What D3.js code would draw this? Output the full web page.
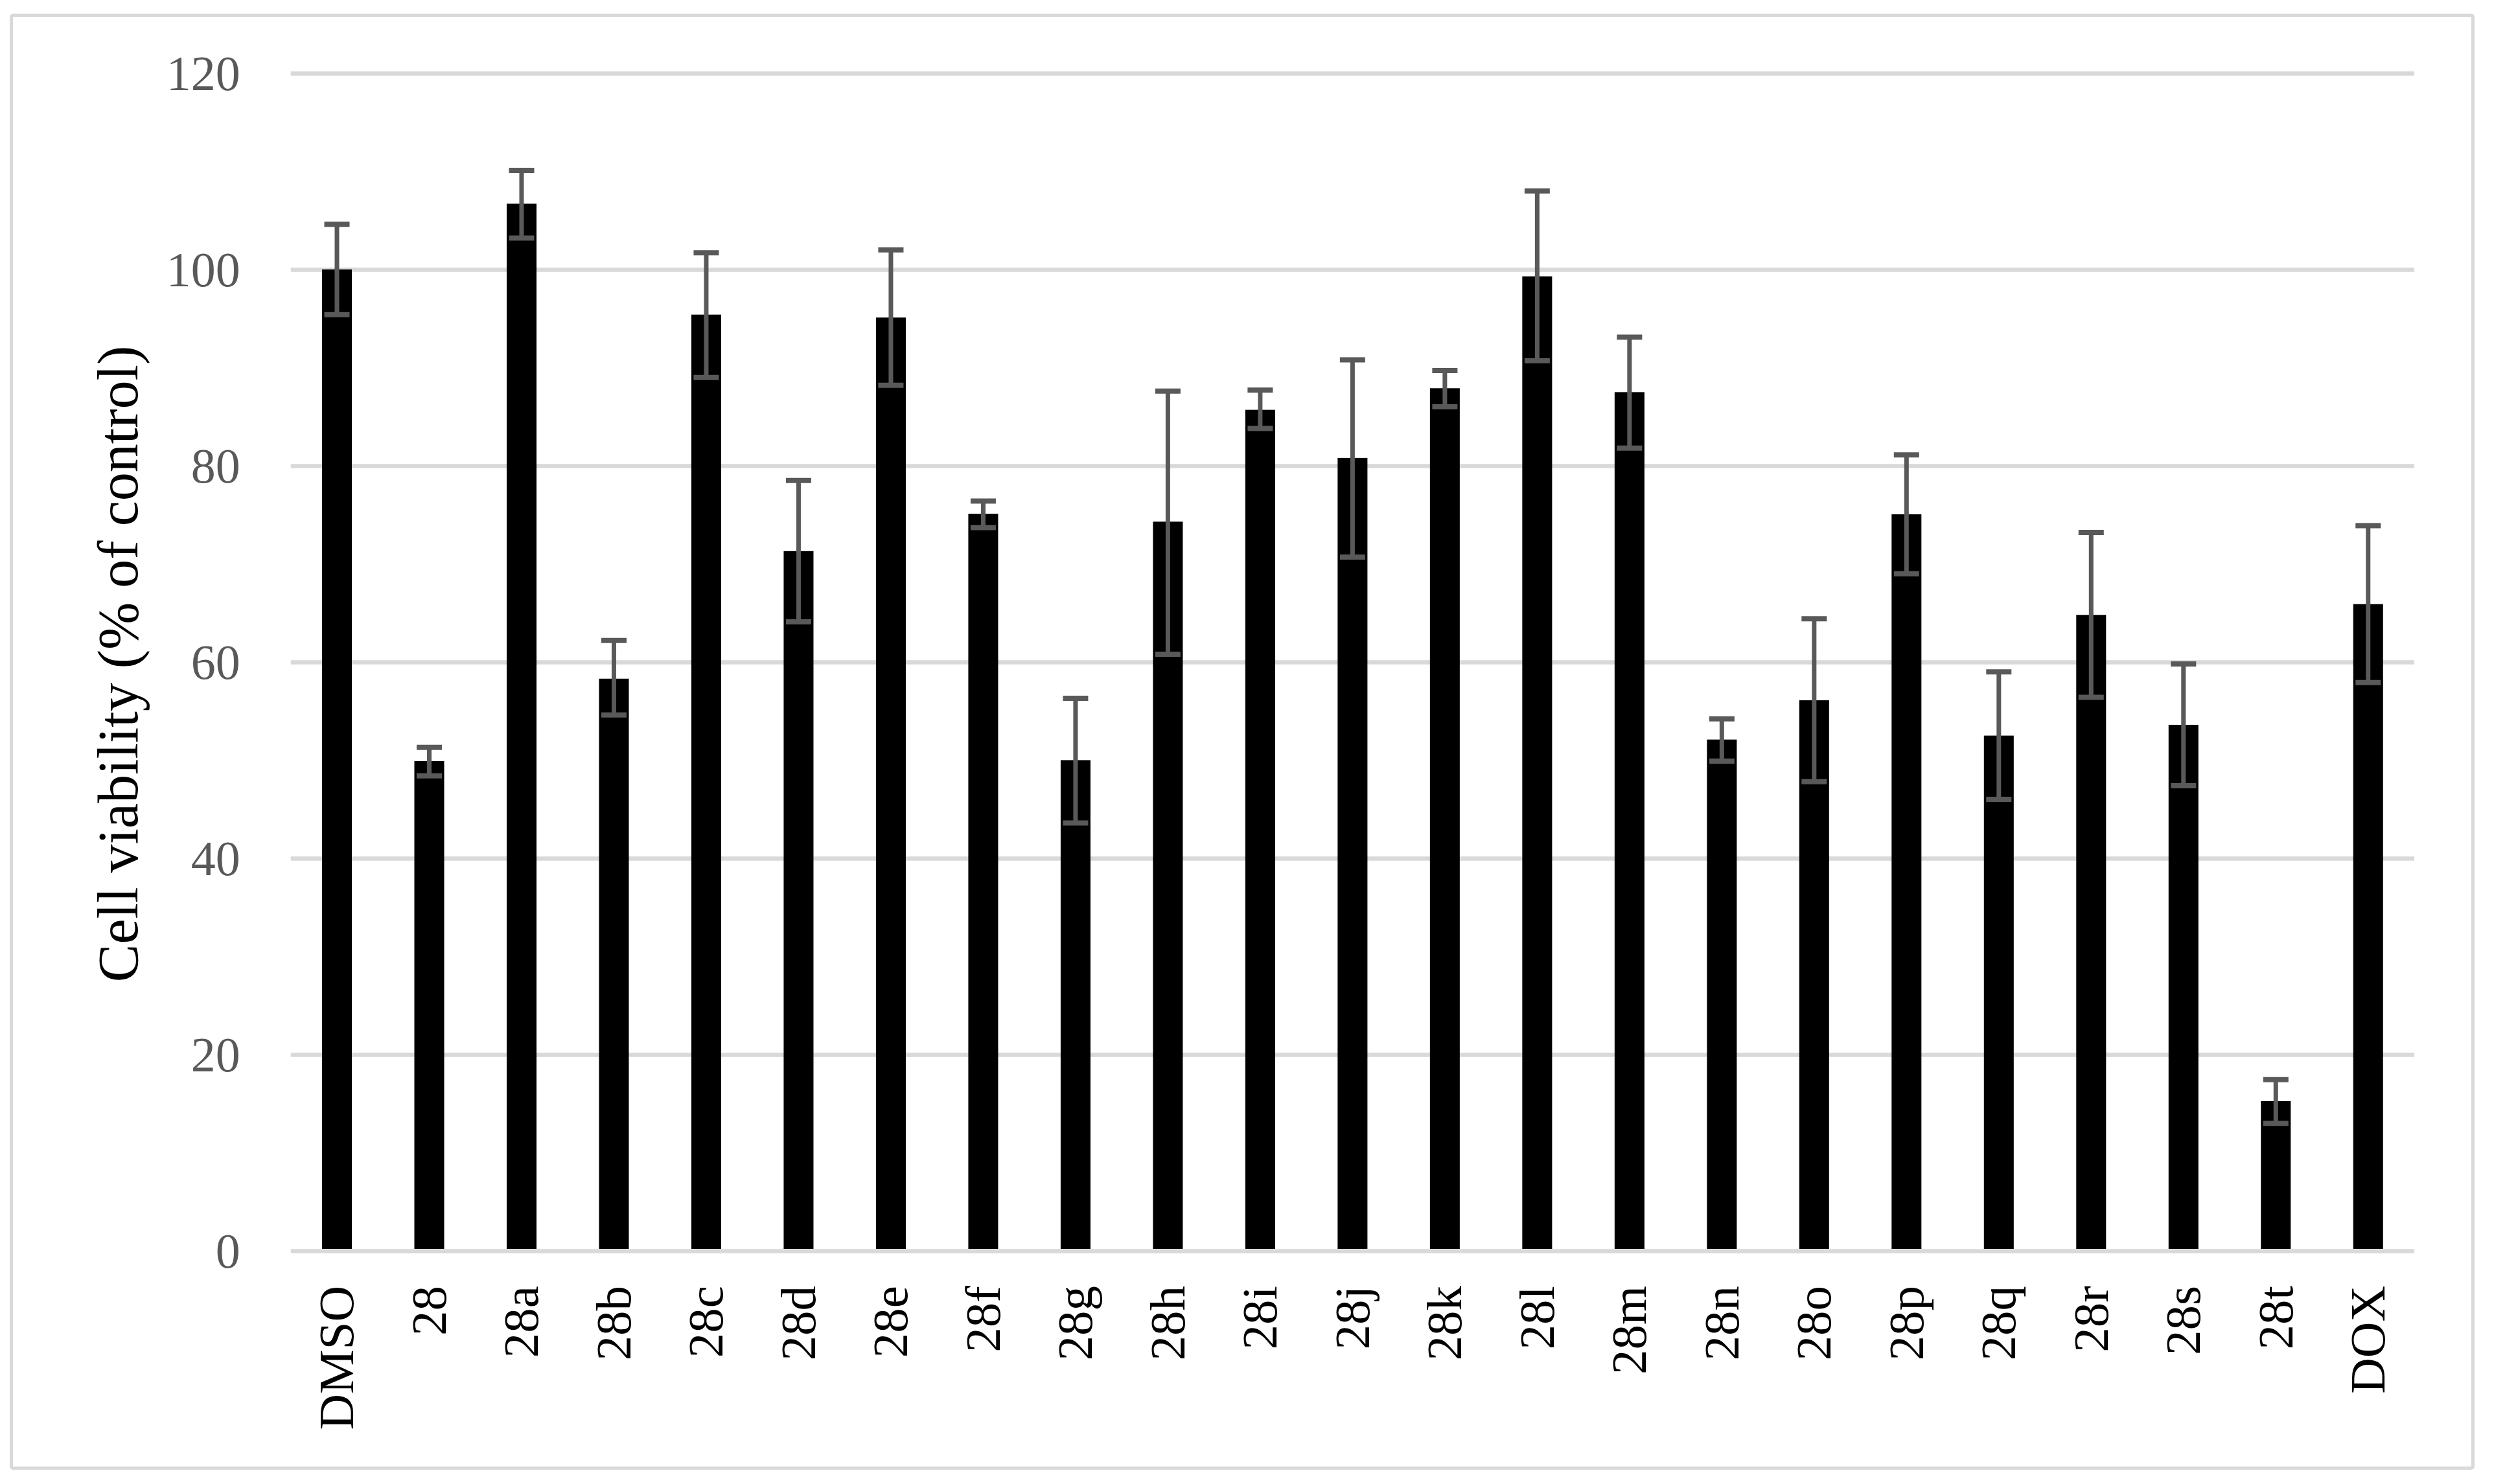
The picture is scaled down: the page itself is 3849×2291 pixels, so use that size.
<!DOCTYPE html>
<html>
<head>
<meta charset="utf-8">
<script src="https://cdn.jsdelivr.net/npm/d3@7"></script>
<style>
  html, body { margin: 0; padding: 0; background: #fff; }
  svg { display: block; }
</style>
</head>
<body>
<script>
// ---- data ----
const categories = ["DMSO","28","28a","28b","28c","28d","28e","28f","28g","28h","28i","28j","28k","28l","28m","28n","28o","28p","28q","28r","28s","28t","DOX"];
const viability  = [100.0, 49.9, 106.7, 58.3, 95.4, 71.3, 95.1, 75.1, 50.0, 74.3, 85.7, 80.8, 87.9, 99.3, 87.5, 52.1, 56.1, 75.05, 52.5, 64.8, 53.6, 15.25, 65.9];
const errUpper   = [104.6, 51.3, 110.1, 62.2, 101.7, 78.5, 102.0, 76.4, 56.3, 87.6, 87.7, 90.8, 89.7, 108.0, 93.1, 54.2, 64.4, 81.1, 59.0, 73.2, 59.8, 17.45, 73.9];
const errLower   = [95.4, 48.4, 103.2, 54.6, 89.0, 64.1, 88.2, 73.7, 43.6, 60.8, 83.8, 70.7, 86.0, 90.7, 81.8, 49.9, 47.8, 69.0, 46.0, 56.4, 47.4, 12.98, 57.9];
const yTicks = [0, 20, 40, 60, 80, 100, 120];
const yTitle = "Cell viability (% of control)";

// ---- layout ----
const W = 3849, H = 2291;
const plot = { left: 448.75, right: 3726, top: 113, bottom: 1931 };
const FONT = "'Palatino Linotype','Book Antiqua',Palatino,'Liberation Serif','Times New Roman',serif";

const svg = d3.select("body").append("svg")
  .attr("width", W).attr("height", H)
  .attr("viewBox", `0 0 ${W} ${H}`);

svg.append("rect").attr("width", W).attr("height", H).attr("fill", "#fff");

// outer border
svg.append("rect")
  .attr("x", 17.5).attr("y", 23.5)
  .attr("width", 3799).attr("height", 2243)
  .attr("rx", 3)
  .attr("fill", "none")
  .attr("stroke", "#d9d9d9")
  .attr("stroke-width", 5);

const x = d3.scaleBand()
  .domain(categories)
  .range([plot.left, plot.right])
  .paddingInner(0.677)
  .paddingOuter(0.3385);

const y = d3.scaleLinear()
  .domain([0, 120])
  .range([plot.bottom, plot.top]);

// y axis with gridlines
const yAxis = svg.append("g")
  .attr("transform", `translate(${plot.left},0)`)
  .call(d3.axisLeft(y).tickValues(yTicks)
    .tickSize(-(plot.right - plot.left))
    .tickPadding(78)
    .tickFormat(d3.format("d")));
yAxis.select(".domain").remove();
yAxis.selectAll(".tick line")
  .attr("stroke", "#d9d9d9")
  .attr("stroke-width", 6.5);
yAxis.selectAll(".tick text")
  .attr("fill", "#595959")
  .attr("font-family", FONT)
  .attr("font-size", 76)
  .attr("dy", "0.33em");

// bars
svg.append("g").selectAll("rect")
  .data(categories)
  .join("rect")
  .attr("x", d => x(d))
  .attr("width", x.bandwidth())
  .attr("y", (d, i) => y(viability[i]))
  .attr("height", (d, i) => y(0) - y(viability[i]) - 3)
  .attr("fill", "#000");

// error bars
const capW = 39;
const eg = svg.append("g")
  .attr("stroke", "#595959")
  .attr("stroke-width", 7)
  .attr("fill", "none");
categories.forEach((c, i) => {
  const cx = x(c) + x.bandwidth() / 2;
  eg.append("line")
    .attr("x1", cx).attr("x2", cx)
    .attr("y1", y(errUpper[i])).attr("y2", y(errLower[i]));
  eg.append("line")
    .attr("x1", cx - capW / 2).attr("x2", cx + capW / 2)
    .attr("y1", y(errUpper[i])).attr("y2", y(errUpper[i]))
    .attr("stroke-width", 8);
  eg.append("line")
    .attr("x1", cx - capW / 2).attr("x2", cx + capW / 2)
    .attr("y1", y(errLower[i])).attr("y2", y(errLower[i]))
    .attr("stroke-width", 8);
});

// x axis labels (rotated)
const xAxis = svg.append("g")
  .attr("transform", `translate(0,${plot.bottom})`)
  .call(d3.axisBottom(x).tickSize(0).tickPadding(0));
xAxis.select(".domain").remove();
xAxis.selectAll(".tick text")
  .attr("fill", "#000")
  .attr("font-family", FONT)
  .attr("font-size", 77)
  .attr("text-anchor", "end")
  .attr("transform", "translate(0,54) rotate(-90)")
  .attr("x", 0)
  .attr("y", 0)
  .attr("dy", "0.33em");

// y axis title
svg.append("text")
  .attr("transform", `translate(212,1025) rotate(-90)`)
  .attr("text-anchor", "middle")
  .attr("font-family", FONT)
  .attr("font-size", 88)
  .attr("fill", "#000")
  .text(yTitle);
</script>
</body>
</html>
